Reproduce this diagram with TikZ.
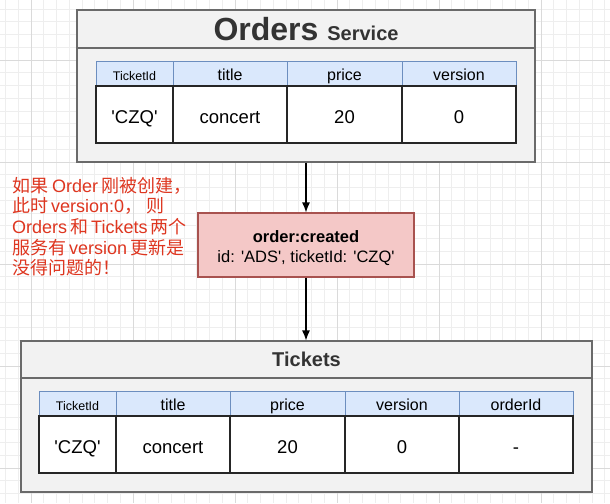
\documentclass[tikz,border=0pt]{standalone}
\usepackage{fontspec}
\setmainfont{Liberation Sans}[Ligatures=TeXOff]
\newfontfamily\cjk{Noto Sans CJK SC}
\usetikzlibrary{arrows.meta}
\definecolor{hdrfill}{HTML}{DAE8FC}
\definecolor{hdrline}{HTML}{6C8EBF}
\definecolor{swfill}{HTML}{F2F2F2}
\definecolor{swline}{HTML}{6A6A6A}
\definecolor{evfill}{HTML}{F4C8C7}
\definecolor{evline}{HTML}{A8524F}
\definecolor{note}{RGB}{222,54,32}
\definecolor{gridminor}{HTML}{EEEEEE}
\definecolor{gridmajor}{HTML}{DADADA}
\definecolor{ink}{HTML}{333333}
\tikzset{
  swpart/.style={draw=swline, fill=swfill, line width=1.1pt, inner sep=0pt, text=ink},
  hcell/.style={draw=hdrline, fill=hdrfill, line width=0.9pt, inner sep=0pt, minimum height=25pt,
     text height=14.5pt, text depth=0pt, font=\fontsize{16}{18}\selectfont},
  bcell/.style={draw=black!85, fill=white, line width=1.1pt, inner sep=0pt, minimum height=57pt,
     text height=18pt, text depth=0pt, font=\fontsize{18.5}{21}\selectfont},
  smallhd/.style={font=\fontsize{12.5}{14}\selectfont, text height=13.5pt},
  event/.style={draw=evline, fill=evfill, line width=1.1pt, inner sep=0pt},
  evtext/.style={align=center, inner sep=0pt, font=\fontsize{16.5}{20}\selectfont},
  noteline/.style={anchor=base west, inner sep=0pt, text=note, font=\fontsize{18}{21}\selectfont},
  flow/.style={-{Latex[length=10pt,width=8pt]}, line width=1.2pt, black}
}
\begin{document}
\begin{tikzpicture}[x=1pt,y=-1pt]
\useasboundingbox[fill=white] (0,0) rectangle (610,503);
% grid
\foreach \k in {-2,...,45} \draw[gridminor, line width=0.6pt] ({31+12.75*\k},0) -- ({31+12.75*\k},503);
\foreach \k in {-4,...,34} \draw[gridminor, line width=0.6pt] (0,{60+12.75*\k}) -- (610,{60+12.75*\k});
\foreach \X in {31,133,235,337,439,541} \draw[gridmajor, line width=0.7pt] (\X,0) -- (\X,503);
\foreach \Y in {60,162,264,366,468} \draw[gridmajor, line width=0.7pt] (0,\Y) -- (610,\Y);

% Orders service
\node[swpart, minimum width=458pt, minimum height=114pt] (ordersbody) at (306,105) {};
\node[swpart, minimum width=458pt, minimum height=38pt] (ordershead) at (306,29)
  {\bfseries\fontsize{32}{34}\selectfont Orders \fontsize{20}{22}\selectfont Service};
\node[hcell, minimum width=77pt, smallhd] (oh1) at (134.5,73.5) {TicketId};
\node[hcell, minimum width=114pt] (oh2) at (230,73.5) {title};
\node[hcell, minimum width=115pt] (oh3) at (344.5,73.5) {price};
\node[hcell, minimum width=114pt] (oh4) at (459,73.5) {version};
\node[bcell, minimum width=77pt] (ob1) at (134.5,114.5) {'CZQ'};
\node[bcell, minimum width=114pt] (ob2) at (230,114.5) {concert};
\node[bcell, minimum width=115pt] (ob3) at (344.5,114.5) {20};
\node[bcell, minimum width=114pt] (ob4) at (459,114.5) {0};

% event
\node[event, minimum width=216pt, minimum height=64pt] (event) at (306,245) {};
\node[evtext] (eventtext) at (306,248)
  {\textbf{order:created}\\id: 'ADS', ticketId: 'CZQ'};

% note
\node[noteline] (n1) at (12,192) {\cjk 如果\ \rmfamily Order\cjk\,刚被创建，};
\node[noteline] (n2) at (12,212.7) {\cjk 此时\,\rmfamily version:0\cjk ，\ 则};
\node[noteline] (n3) at (12,233.4) {\rmfamily Orders\cjk\,和\,\rmfamily Tickets\cjk\,两个};
\node[noteline] (n4) at (12,254.1) {\cjk 服务有\,\rmfamily version\,\cjk 更新是};
\node[noteline] (n5) at (12,274.8) {\cjk 没得问题的！};

% Tickets
\node[swpart, minimum width=571pt, minimum height=114pt] (ticketsbody) at (306.5,435) {};
\node[swpart, minimum width=571pt, minimum height=37pt] (ticketshead) at (306.5,359.5)
  {\bfseries\fontsize{20}{22}\selectfont Tickets};
\node[hcell, minimum width=77pt, smallhd] (th1) at (77.5,403.5) {TicketId};
\node[hcell, minimum width=114pt] (th2) at (173,403.5) {title};
\node[hcell, minimum width=115pt] (th3) at (287.5,403.5) {price};
\node[hcell, minimum width=114pt] (th4) at (402,403.5) {version};
\node[hcell, minimum width=114pt] (th5) at (516,403.5) {orderId};
\node[bcell, minimum width=77pt] (tb1) at (77.5,444.5) {'CZQ'};
\node[bcell, minimum width=114pt] (tb2) at (173,444.5) {concert};
\node[bcell, minimum width=115pt] (tb3) at (287.5,444.5) {20};
\node[bcell, minimum width=114pt] (tb4) at (402,444.5) {0};
\node[bcell, minimum width=114pt] (tb5) at (516,444.5) {-};

% connectors
\draw[flow] (ordersbody.south) -- (event.north);
\draw[flow] (event.south) -- (event.south |- ticketshead.north);
\end{tikzpicture}
\end{document}
